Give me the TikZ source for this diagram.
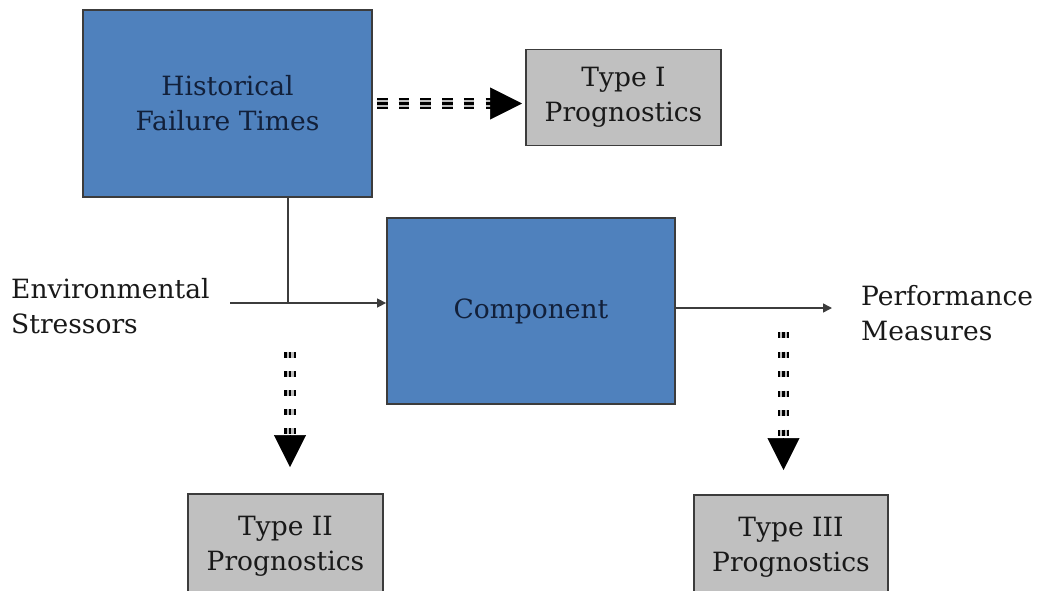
\documentclass[tikz,border=0pt]{standalone}
\usepackage{fontspec}
\setmainfont{DejaVu Serif}
\usetikzlibrary{arrows.meta,calc}
\definecolor{boxblue}{RGB}{79,129,189}
\definecolor{boxgray}{RGB}{192,192,192}
\definecolor{navytext}{RGB}{18,32,58}
\definecolor{edgegray}{RGB}{60,60,60}
\tikzset{
  lbl/.style={font=\fontsize{26.5}{35}\selectfont, inner sep=0pt},
  bluebox/.style={lbl, draw=edgegray, line width=1.8pt, fill=boxblue, text=navytext, align=center},
  graybox/.style={lbl, draw=edgegray, line width=1.8pt, fill=boxgray, text=black!90, align=center},
  conn/.style={draw=edgegray, line width=1.5pt},
  connarrow/.style={conn, -{Triangle[length=9pt,width=9pt]}},
  stripe/.style={draw=black, line width=11.5pt, dash pattern=#1,
    postaction={draw=white!75!black, line width=7pt, dash pattern=#1},
    postaction={draw=black, line width=2.6pt, dash pattern=#1}},
  bigtip/.style={draw=black, fill=black, line width=0.5pt, -{Triangle[length=32pt,width=32pt]}}
}
\begin{document}
\begin{tikzpicture}[x=1pt,y=-1pt]
\useasboundingbox (0,0) rectangle (1038,590);
\clip (0,0) rectangle (1038,590);
% boxes
\node[bluebox, minimum width=289pt, minimum height=187pt] (hist) at (227.5,103.5) {Historical\\Failure Times};
\node[graybox, minimum width=195pt, minimum height=96pt] (t1) at (623.5,97.5) {Type I\\Prognostics};
\node[bluebox, minimum width=288pt, minimum height=186pt] (comp) at (531,311) {Component};
\node[graybox, minimum width=195pt, minimum height=104pt] (t2) at (285.5,546) {Type II\\Prognostics};
\node[graybox, minimum width=194pt, minimum height=104pt] (t3) at (791,547) {Type III\\Prognostics};
% free labels
\node[lbl, anchor=west, align=left, text=black!90] (env) at (11,306) {Environmental\\Stressors};
\node[lbl, anchor=west, align=left, text=black!90] (perf) at (861,313) {Performance\\Measures};
% coordinates
\coordinate (j) at (288,303);
\coordinate (envstart) at (230,303);
\coordinate (perfend) at (832,308);
\coordinate (a1s) at (377,103.5);
\coordinate (a1e) at (522,103.5);
\coordinate (a2s) at (290,352);
\coordinate (a2e) at (290,467);
\coordinate (a3s) at (783.5,332);
\coordinate (a3e) at (783.5,470);
% solid connectors
\draw[conn] (j |- hist.south) -- (j);
\draw[connarrow] (envstart) -- (comp.west |- envstart);
\draw[connarrow] (comp.east |- perfend) -- (perfend);
% striped dashed arrows
\draw[stripe={on 10.5pt off 11.2pt}, shorten >=30pt] (a1s) -- (a1e);
\draw[bigtip] ($(a1e)!32pt!(a1s)$) -- (a1e);
\draw[stripe={on 5.5pt off 13.5pt}, shorten >=30pt] (a2s) -- (a2e);
\draw[bigtip] ($(a2e)!32pt!(a2s)$) -- (a2e);
\draw[stripe={on 6pt off 13.5pt}, shorten >=30pt] (a3s) -- (a3e);
\draw[bigtip] ($(a3e)!32pt!(a3s)$) -- (a3e);
\end{tikzpicture}
\end{document}
